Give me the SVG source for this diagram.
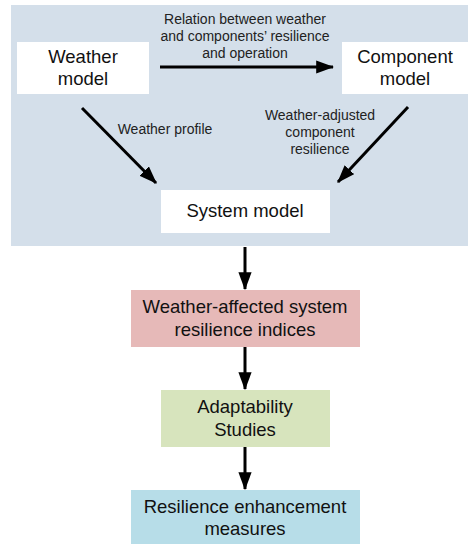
<svg xmlns="http://www.w3.org/2000/svg" width="468" height="544" viewBox="0 0 468 544">
<defs>
<style>
.box{fill:#ffffff}
.t{font-family:"Liberation Sans",Arial,sans-serif;font-size:18.5px;fill:#111;text-anchor:middle}
.s{font-family:"Liberation Sans",Arial,sans-serif;font-size:14px;fill:#222;text-anchor:middle}
.c{stroke:#000;stroke-width:3;fill:none;marker-end:url(#ah)}
</style>
<marker id="ah" markerWidth="6" markerHeight="4.4" refX="5.6" refY="2.2" orient="auto" markerUnits="strokeWidth">
<path d="M0,0 L6,2.2 L0,4.4 Z" fill="#000"/>
</marker>
</defs>
<rect id="panel" x="11" y="5" width="457" height="241" fill="#d4dfea"/>
<g id="weather-model">
<rect class="box" x="17" y="42" width="132" height="52"/>
<text class="t" x="83" y="63">Weather</text>
<text class="t" x="83" y="85">model</text>
</g>
<g id="component-model">
<rect class="box" x="342" y="42" width="126" height="52"/>
<text class="t" x="405" y="63">Component</text>
<text class="t" x="405" y="85">model</text>
</g>
<g id="system-model">
<rect class="box" x="161" y="190" width="169" height="43"/>
<text class="t" x="245" y="217">System model</text>
</g>
<g id="indices">
<rect x="131" y="290" width="229" height="57" fill="#e6b9b8"/>
<text class="t" x="245" y="313">Weather-affected system</text>
<text class="t" x="245" y="336">resilience indices</text>
</g>
<g id="adaptability">
<rect x="161" y="390" width="169" height="57" fill="#d7e4bd"/>
<text class="t" x="245" y="413">Adaptability</text>
<text class="t" x="245" y="436">Studies</text>
</g>
<g id="enhancement">
<rect x="131" y="490" width="229" height="54" fill="#b7dde8"/>
<text class="t" x="245" y="513">Resilience enhancement</text>
<text class="t" x="245" y="535">measures</text>
</g>
<g id="connectors">
<line class="c" x1="160" y1="67" x2="333" y2="67"/>
<line class="c" x1="82" y1="108" x2="156" y2="183"/>
<line class="c" x1="408" y1="107" x2="338" y2="182"/>
<line class="c" x1="245" y1="247" x2="245" y2="289"/>
<line class="c" x1="245" y1="347" x2="245" y2="389"/>
<line class="c" x1="245" y1="447" x2="245" y2="489"/>
</g>
<g id="labels">
<text class="s" x="245" y="24">Relation between weather</text>
<text class="s" x="245" y="41">and components’ resilience</text>
<text class="s" x="245" y="58">and operation</text>
<text class="s" x="165" y="134">Weather profile</text>
<text class="s" x="320" y="120">Weather-adjusted</text>
<text class="s" x="320" y="137">component</text>
<text class="s" x="320" y="154">resilience</text>
</g>
</svg>
